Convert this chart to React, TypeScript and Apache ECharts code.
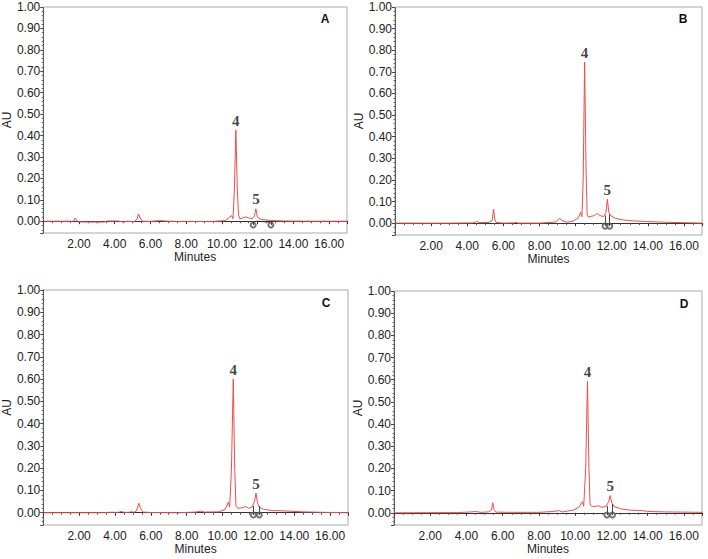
import React, { useEffect, useRef } from "react";
import * as echarts from "echarts";

// ---- Data ----
const panelLetters = ["A", "B", "C", "D"];

const traceA: [number, number][] = [
  [0, 0], [1.7, 0], [1.78, 0.015], [1.85, 0.008], [1.95, -0.003], [2.5, -0.004], [3.4, -0.004],
  [3.6, 0.001], [4.2, 0.001], [4.5, -0.004], [4.7, 0.0], [5.1, -0.003], [5.25, 0.01], [5.33, 0.034],
  [5.42, 0.015], [5.55, 0.0], [6.0, -0.001], [6.5, 0.003], [7.0, 0.0], [8.0, -0.002], [9.5, -0.001],
  [10.2, 0.003], [10.45, 0.02], [10.55, 0.026], [10.62, 0.012], [10.7, 0.15], [10.78, 0.425],
  [10.86, 0.15], [10.93, 0.03], [11.0, 0.012], [11.15, 0.015], [11.35, 0.02], [11.5, 0.015],
  [11.7, 0.012], [11.82, 0.025], [11.9, 0.058], [11.98, 0.02], [12.2, 0.008], [12.8, 0.003],
  [13.5, 0.001], [15, 0.0], [17, 0.0],
];
const traceB: [number, number][] = [
  [0, 0], [3.0, 0.0], [4.3, 0.001], [4.55, 0.007], [4.7, 0.002], [5.2, 0.003], [5.38, 0.012],
  [5.46, 0.065], [5.52, 0.02], [5.6, 0.003], [6.0, 0.0], [6.6, 0.001], [6.7, 0.004], [6.8, 0.0],
  [8.0, 0.0], [8.9, 0.005], [9.1, 0.022], [9.3, 0.01], [9.5, 0.004], [9.9, 0.01], [10.15, 0.025],
  [10.28, 0.05], [10.35, 0.03], [10.42, 0.2], [10.5, 0.745], [10.58, 0.25], [10.64, 0.04],
  [10.7, 0.028], [10.9, 0.032], [11.05, 0.035], [11.2, 0.045], [11.35, 0.035], [11.55, 0.03],
  [11.68, 0.05], [11.76, 0.11], [11.84, 0.05], [11.95, 0.035], [12.2, 0.022], [12.6, 0.015],
  [13.2, 0.01], [14, 0.007], [15, 0.004], [16, 0.002], [17, 0.0],
];
const traceC: [number, number][] = [
  [0, 0], [3.4, 0.0], [3.6, 0.002], [4.2, 0.002], [4.35, 0.006], [4.5, 0.002], [4.8, 0.002],
  [4.9, 0.005], [5.05, 0.002], [5.2, 0.008], [5.33, 0.043], [5.42, 0.02], [5.55, 0.003],
  [6.0, 0.001], [7.5, 0.0], [8.5, 0.003], [8.77, 0.007], [9.0, 0.003], [9.8, 0.004], [10.15, 0.015],
  [10.33, 0.048], [10.4, 0.025], [10.5, 0.2], [10.6, 0.6], [10.68, 0.2], [10.75, 0.03],
  [10.85, 0.02], [11.1, 0.022], [11.3, 0.028], [11.45, 0.02], [11.65, 0.025], [11.78, 0.05],
  [11.87, 0.088], [11.95, 0.045], [12.05, 0.025], [12.3, 0.015], [12.8, 0.01], [13.5, 0.008],
  [14.5, 0.004], [15.5, 0.002], [17, 0.0],
];
const traceD: [number, number][] = [
  [0, 0], [3.5, 0.001], [4.3, 0.004], [4.5, 0.006], [4.8, 0.002], [5.2, 0.004], [5.38, 0.012],
  [5.45, 0.045], [5.52, 0.015], [5.62, 0.003], [6.5, 0.002], [8.0, 0.002], [8.8, 0.006],
  [9.08, 0.01], [9.3, 0.004], [9.9, 0.012], [10.2, 0.025], [10.4, 0.05], [10.47, 0.03],
  [10.58, 0.2], [10.68, 0.592], [10.76, 0.2], [10.82, 0.04], [10.9, 0.03], [11.1, 0.028],
  [11.29, 0.032], [11.45, 0.025], [11.7, 0.028], [11.85, 0.05], [11.93, 0.078], [12.02, 0.045],
  [12.15, 0.028], [12.5, 0.018], [13.0, 0.012], [13.7, 0.01], [14.0, 0.006], [15, 0.004],
  [16, 0.003], [17, 0.002],
];
const traces = [traceA, traceB, traceC, traceD];

// peak apexes [time, AU] for peak "4" and peak "5"
const peak4: [number, number][] = [[10.78, 0.425], [10.5, 0.745], [10.6, 0.6], [10.68, 0.592]];
const peak5: [number, number][] = [[11.9, 0.058], [11.76, 0.11], [11.87, 0.088], [11.93, 0.078]];

// integration markers: start / end times, marker level, drop-line tops
const markStart = [11.75, 11.63, 11.72, 11.75];
const markEnd = [12.74, 11.89, 12.05, 12.06];
const markLevel = [-0.018, -0.014, -0.01, -0.01];
const dropTopStart = [0.0, 0.035, 0.03, 0.03];
const dropTopEnd = [-0.006, 0.04, 0.03, 0.04];

const xTicks = [2, 4, 6, 8, 10, 12, 14, 16];
const yTicks = [0, 0.1, 0.2, 0.3, 0.4, 0.5, 0.6, 0.7, 0.8, 0.9, 1.0];

// ---- Layout ----
const grids = [
  { left: 42, top: 7, width: 305, height: 226 },
  { left: 395, top: 7, width: 307, height: 228 },
  { left: 42, top: 290, width: 306, height: 235 },
  { left: 394, top: 291, width: 308, height: 234 },
];
const letterPos = [
  [325, 19],
  [683, 19],
  [326, 303],
  [684, 304],
];

const FONT = "Liberation Sans, Arial, sans-serif";
const RED = "#f24a4a";

function buildOption() {
  const xAxis: any[] = [];
  const yAxis: any[] = [];
  const series: any[] = [];
  grids.forEach((g, i) => {
    xAxis.push({
      gridIndex: i,
      type: "value",
      min: 0,
      max: 17,
      interval: 2,
      name: "Minutes",
      nameLocation: "middle",
      nameGap: 17,
      nameTextStyle: { fontFamily: FONT, fontSize: 12, color: "#222" },
      axisLine: { lineStyle: { color: "#333", width: 1 } },
      axisTick: { length: 3, lineStyle: { color: "#333" } },
      minorTick: { show: true, splitNumber: 4, length: 2, lineStyle: { color: "#555" } },
      splitLine: { show: false },
      axisLabel: {
        fontFamily: FONT,
        fontSize: 12,
        color: "#222",
        margin: 5,
        formatter: (v: number) => (xTicks.includes(Math.round(v * 100) / 100) ? v.toFixed(2) : ""),
      },
    });
    yAxis.push({
      gridIndex: i,
      type: "value",
      min: -0.055,
      max: 1,
      splitNumber: 10,
      name: "AU",
      nameLocation: "middle",
      nameGap: 29,
      nameTextStyle: { fontFamily: FONT, fontSize: 12, color: "#222" },
      axisLine: { show: true, lineStyle: { color: "#444", width: 1, type: [1, 1] } },
      axisTick: { length: 3, lineStyle: { color: "#444" } },
      minorTick: { show: true, splitNumber: 5, length: 1.5, lineStyle: { color: "#666" } },
      splitLine: { show: false },
      axisLabel: {
        fontFamily: FONT,
        fontSize: 12,
        color: "#222",
        margin: 3,
        formatter: (v: number) => {
          const r = Math.round(v * 100) / 100;
          return yTicks.some((t) => Math.abs(t - r) < 1e-6) ? r.toFixed(2) : "";
        },
      },
    });
    series.push({
      type: "line",
      xAxisIndex: i,
      yAxisIndex: i,
      data: traces[i],
      showSymbol: false,
      lineStyle: { color: RED, width: 1 },
      silent: true,
      z: 3,
    });
    series.push({
      type: "scatter",
      xAxisIndex: i,
      yAxisIndex: i,
      symbolSize: 0,
      data: [
        { value: peak4[i], name: "4" },
        { value: peak5[i], name: "5" },
      ],
      label: {
        show: true,
        position: "top",
        distance: 2,
        formatter: "{b}",
        fontFamily: "Liberation Serif, Times New Roman, serif",
        fontWeight: "bold",
        fontSize: 15,
        color: "#111",
      },
      z: 5,
    });
    series.push({
      type: "scatter",
      xAxisIndex: i,
      yAxisIndex: i,
      symbol: "emptyCircle",
      symbolSize: 5,
      itemStyle: { color: "#555", borderColor: "#555", borderWidth: 1 },
      data: [
        [markStart[i], markLevel[i]],
        [markEnd[i], markLevel[i]],
      ],
      markLine: {
        silent: true,
        symbol: "none",
        label: { show: false },
        lineStyle: { color: "#444", width: 1, type: "solid" },
        data: [
          [{ coord: [markStart[i], markLevel[i]] }, { coord: [markStart[i], dropTopStart[i]] }],
          [{ coord: [markEnd[i], markLevel[i]] }, { coord: [markEnd[i], dropTopEnd[i]] }],
        ],
      },
      z: 4,
    });
  });
  // baseline drawn by integration in panel A
  series.push({
    type: "line",
    xAxisIndex: 0,
    yAxisIndex: 0,
    data: [
      [peak5[0][0] + 0.05, 0.0],
      [markEnd[0], -0.004],
    ],
    showSymbol: false,
    lineStyle: { color: "#222", width: 1 },
    silent: true,
    z: 4,
  });

  return {
    animation: false,
    backgroundColor: "#fff",
    grid: grids.map((g) => ({ ...g, show: true, borderColor: "#aaa", borderWidth: 1, backgroundColor: "transparent" })),
    xAxis,
    yAxis,
    series,
    graphic: panelLetters.map((l, i) => ({
      type: "text",
      x: letterPos[i][0],
      y: letterPos[i][1],
      style: {
        text: l,
        fontFamily: FONT,
        fontWeight: "bold",
        fontSize: 12,
        fill: "#111",
        textAlign: "center",
        textVerticalAlign: "middle",
      },
      z: 10,
    })),
  };
}

export default function App() {
  const ref = useRef<HTMLDivElement>(null);
  useEffect(() => {
    if (!ref.current) return;
    const chart = echarts.init(ref.current, undefined, { renderer: "svg" });
    chart.setOption(buildOption() as any);
    return () => chart.dispose();
  }, []);
  return (
    <div
      ref={ref}
      style={{ position: "fixed", left: 0, top: 0, width: 708, height: 559, background: "#fff" }}
    />
  );
}
